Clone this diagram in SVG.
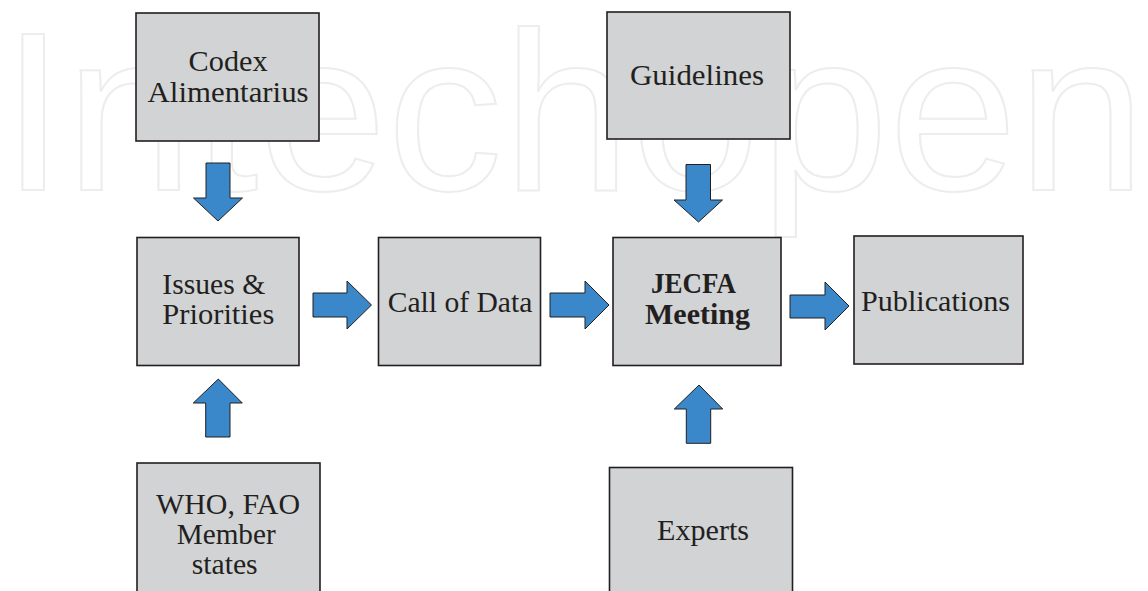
<svg xmlns="http://www.w3.org/2000/svg" width="1148" height="591" viewBox="0 0 1148 591">
<style>
.bg{fill:#ffffff}
.wm{fill:none;stroke:#ededed;stroke-width:2;font-family:"Liberation Sans",Arial,sans-serif;font-size:226px}
.box{fill:#d1d3d4;stroke:#231f20;stroke-width:1.6}
.arr{fill:#3a88c9;stroke:#231f20;stroke-width:1;stroke-linejoin:miter}
.t{fill:#231f20;font-family:"Liberation Serif","Times New Roman",serif;font-size:29px}
.b{font-weight:bold}
</style>
<rect class="bg" x="0" y="0" width="1148" height="591"/>
<g id="watermark">
<text class="wm" x="1" y="190" textLength="1145" lengthAdjust="spacingAndGlyphs">Intechopen</text>
</g>
<g id="connectors">
<polygon class="arr" points="206,163 230,163 230,198 242.5,198 218,221 193.5,198 206,198"/>
<polygon class="arr" points="686,164.5 710.5,164.5 710.5,200 722.5,200 698.5,222 674,200 686,200"/>
<polygon class="arr" points="313,293 347,293 347,281 371.5,305 347,329 347,317 313,317"/>
<polygon class="arr" points="550,293 585,293 585,281 609,305 585,329 585,317 550,317"/>
<polygon class="arr" points="790,295 825,295 825,282 849,306 825,330 825,318 790,318"/>
<polygon class="arr" points="205.7,437 230,437 230,403 242.3,403 218.3,379 193.3,403 205.7,403"/>
<polygon class="arr" points="686.3,443.3 710.7,443.3 710.7,409 722.7,409 699,385 674.3,409 686.3,409"/>
</g>
<g id="codex">
<rect class="box" x="136" y="13" width="183" height="128"/>
<text class="t" x="188.6" y="71" textLength="79" lengthAdjust="spacingAndGlyphs">Codex</text>
<text class="t" x="147.6" y="102" textLength="161" lengthAdjust="spacingAndGlyphs">Alimentarius</text>
</g>
<g id="guidelines">
<rect class="box" x="607" y="12" width="183" height="127"/>
<text class="t" x="630" y="85" textLength="134" lengthAdjust="spacingAndGlyphs">Guidelines</text>
</g>
<g id="issues">
<rect class="box" x="137" y="237.5" width="162" height="128"/>
<text class="t" x="162.3" y="294" textLength="103" lengthAdjust="spacingAndGlyphs">Issues &amp;</text>
<text class="t" x="162.3" y="324" textLength="112" lengthAdjust="spacingAndGlyphs">Priorities</text>
</g>
<g id="calldata">
<rect class="box" x="378.5" y="237.5" width="162" height="128"/>
<text class="t" x="387.7" y="312" textLength="144.6" lengthAdjust="spacingAndGlyphs">Call of Data</text>
</g>
<g id="jecfa">
<rect class="box" x="613" y="237.5" width="168" height="128"/>
<text class="t b" x="651" y="293" textLength="85" lengthAdjust="spacingAndGlyphs">JECFA</text>
<text class="t b" x="645" y="324" textLength="105" lengthAdjust="spacingAndGlyphs">Meeting</text>
</g>
<g id="publications">
<rect class="box" x="854" y="236" width="169" height="128"/>
<text class="t" x="861" y="311" textLength="149" lengthAdjust="spacingAndGlyphs">Publications</text>
</g>
<g id="who">
<rect class="box" x="137" y="463" width="183" height="140"/>
<text class="t" x="156" y="514" textLength="144" lengthAdjust="spacingAndGlyphs">WHO, FAO</text>
<text class="t" x="176.7" y="544" textLength="99" lengthAdjust="spacingAndGlyphs">Member</text>
<text class="t" x="191.7" y="574" textLength="66" lengthAdjust="spacingAndGlyphs">states</text>
</g>
<g id="experts">
<rect class="box" x="609.5" y="467.5" width="183" height="140"/>
<text class="t" x="657" y="540" textLength="92" lengthAdjust="spacingAndGlyphs">Experts</text>
</g>
</svg>
